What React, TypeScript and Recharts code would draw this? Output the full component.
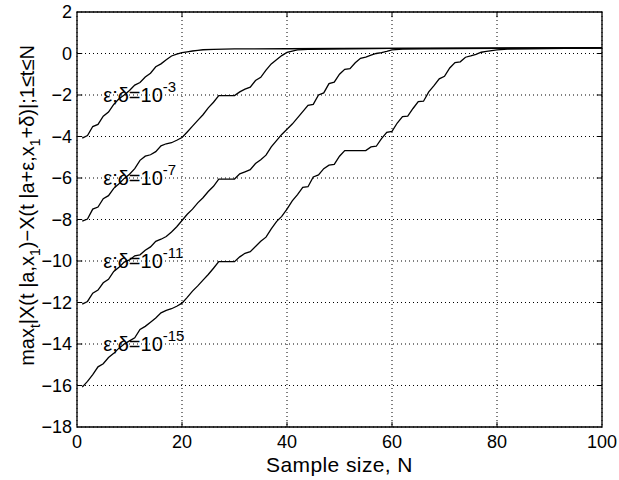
import React from "react";
import {
  LineChart,
  Line,
  XAxis,
  YAxis,
  CartesianGrid,
  ReferenceArea,
  ReferenceLine,
  ReferenceDot,
} from "recharts";

const xTicks = [0, 20, 40, 60, 80, 100];
const yTicks = [-18, -16, -14, -12, -10, -8, -6, -4, -2, 0, 2];

const curve1: [number, number][] = [
  [1, -4.08], [2, -3.95], [3, -3.52], [4, -3.42], [5, -3.02], [6, -2.82], [7, -2.45], [8, -2.18], [9, -2.0], [10, -1.78],
  [11, -1.52], [12, -1.4], [13, -1.13], [14, -0.95], [15, -0.64], [16, -0.5], [17, -0.3], [18, -0.12], [19, -0.03], [20, 0.04],
  [21, 0.08], [22, 0.12], [23, 0.15], [24, 0.18], [26, 0.2], [30, 0.22], [40, 0.23], [50, 0.24], [60, 0.25], [80, 0.26], [100, 0.27],
];

const curve2: [number, number][] = [
  [1, -8.08], [2, -7.98], [3, -7.5], [4, -7.4], [5, -7.0], [6, -6.85], [7, -6.5], [8, -6.28], [9, -6.02], [10, -5.82],
  [11, -5.55], [12, -5.15], [13, -4.95], [14, -4.88], [15, -4.73], [16, -4.45], [17, -4.35], [18, -4.3], [19, -4.18], [20, -4.05],
  [21, -3.78], [22, -3.5], [23, -3.22], [24, -2.95], [25, -2.62], [26, -2.35], [27, -2.03], [28, -2.03], [29, -2.03], [30, -2.03],
  [31, -1.85], [32, -1.72], [33, -1.62], [34, -1.3], [35, -1.15], [36, -0.8], [37, -0.5], [38, -0.3], [39, -0.1], [40, 0.05],
  [41, 0.12], [42, 0.17], [44, 0.2], [50, 0.23], [60, 0.25], [80, 0.26], [100, 0.27],
];

const curve3: [number, number][] = [
  [1, -12.08], [2, -11.95], [3, -11.55], [4, -11.4], [5, -11.05], [6, -10.88], [7, -10.5], [8, -10.3], [9, -10.05], [10, -9.95],
  [11, -9.75], [12, -9.7], [13, -9.48], [14, -9.32], [15, -9.05], [16, -8.95], [17, -8.82], [18, -8.6], [19, -8.35], [20, -8.05],
  [21, -7.75], [22, -7.5], [23, -7.2], [24, -6.95], [25, -6.65], [26, -6.4], [27, -6.05], [28, -6.05], [29, -6.05], [30, -6.05],
  [31, -5.8], [32, -5.7], [33, -5.6], [34, -5.3], [35, -5.12], [36, -4.9], [37, -4.5], [38, -4.2], [39, -3.9], [40, -3.65],
  [41, -3.4], [42, -3.1], [43, -2.8], [44, -2.5], [45, -2.45], [46, -2.0], [47, -1.9], [48, -1.45], [49, -1.38], [50, -1.0],
  [51, -0.76], [52, -0.73], [53, -0.45], [54, -0.23], [55, -0.17], [56, -0.08], [57, 0.0], [58, 0.04], [59, 0.1], [60, 0.17],
  [62, 0.21], [66, 0.23], [80, 0.25], [100, 0.27],
];

const curve4: [number, number][] = [
  [1, -16.08], [2, -15.8], [3, -15.48], [4, -15.1], [5, -14.95], [6, -14.65], [7, -14.45], [8, -14.2], [9, -14.0], [10, -13.85],
  [11, -13.7], [12, -13.3], [13, -13.15], [14, -12.95], [15, -12.75], [16, -12.5], [17, -12.38], [18, -12.3], [19, -12.18], [20, -12.03],
  [21, -11.75], [22, -11.45], [23, -11.2], [24, -10.92], [25, -10.65], [26, -10.35], [27, -10.03], [28, -10.03], [29, -10.03], [30, -10.03],
  [31, -9.8], [32, -9.63], [33, -9.55], [34, -9.3], [35, -9.05], [36, -8.85], [37, -8.45], [38, -8.1], [39, -7.85], [40, -7.5],
  [41, -7.1], [42, -6.8], [43, -6.45], [44, -6.42], [45, -5.95], [46, -5.85], [47, -5.55], [48, -5.38], [49, -5.34], [50, -4.95],
  [51, -4.68], [52, -4.68], [53, -4.68], [54, -4.68], [55, -4.68], [56, -4.5], [57, -4.47], [58, -4.1], [59, -3.8], [60, -3.75],
  [61, -3.35], [62, -3.04], [63, -3.02], [64, -2.65], [65, -2.32], [66, -2.3], [67, -1.85], [68, -1.55], [69, -1.22], [70, -1.1],
  [71, -0.7], [72, -0.44], [73, -0.4], [74, -0.18], [75, -0.12], [76, -0.04], [77, 0.06], [78, 0.1], [79, 0.14], [80, 0.17],
  [82, 0.21], [86, 0.23], [100, 0.27],
];

const curves = [curve1, curve2, curve3, curve4];

const labelN = [5, 5, 5, 5];
const labelY = [-2, -6, -10, -14];
const labelExp = ["-3", "-7", "-11", "-15"];

const FONT = "'Liberation Sans', Arial, Helvetica, sans-serif";

const fmt = (v: number) => String(v).replace("-", "\u2212");

const XTick = (props: any) => {
  const { x, y, payload } = props;
  return (
    <text x={x} y={y + 21} textAnchor="middle" fontSize={18} fontFamily={FONT} fill="#000">
      {fmt(payload.value)}
    </text>
  );
};

const YTick = (props: any) => {
  const { x, y, payload } = props;
  return (
    <text x={x - 5} y={y + 6} textAnchor="end" fontSize={18} fontFamily={FONT} fill="#000">
      {fmt(payload.value)}
    </text>
  );
};

const YLabel = (props: any) => {
  const vb = props.viewBox || { x: 0, y: 12, width: 77, height: 415 };
  const cx = vb.x + 34;
  const cy = vb.y + vb.height / 2 - 14;
  const sub = 6;
  return (
    <text
      x={cx}
      y={cy}
      transform={`rotate(-90 ${cx} ${cy})`}
      textAnchor="middle"
      fontSize={20}
      fontFamily={FONT}
      fill="#000"
    >
      <tspan>max</tspan>
      <tspan fontSize={14} dy={sub}>t</tspan>
      <tspan dy={-sub}>|X(t |a,x</tspan>
      <tspan fontSize={14} dy={sub}>1</tspan>
      <tspan dy={-sub}>){"\u2212"}X(t |a+ε,x</tspan>
      <tspan fontSize={14} dy={sub}>1</tspan>
      <tspan dy={-sub}>+δ)|;1≤t≤N</tspan>
    </text>
  );
};

const XLabel = (props: any) => {
  const vb = props.viewBox || { x: 77, y: 427, width: 525, height: 53 };
  return (
    <text
      x={vb.x + vb.width / 2}
      y={vb.y + 45}
      textAnchor="middle"
      fontSize={21}
      letterSpacing={0.4}
      fontFamily={FONT}
      fill="#000"
    >
      Sample size, N
    </text>
  );
};

const makeLabelShape = (exp: string) => (props: any) => {
  const { cx, cy } = props;
  return (
    <text x={cx} y={cy + 7} fontSize={20} fontFamily={FONT} fill="#000">
      <tspan>ε;δ=10</tspan>
      <tspan fontSize={15} dy={-10}>{exp}</tspan>
    </text>
  );
};

export default function App() {
  const innerX = xTicks.slice(1, -1);
  const innerY = yTicks.slice(1, -1);
  const yMin = yTicks[0];
  const yMax = yTicks[yTicks.length - 1];
  const xMin = xTicks[0];
  const xMax = xTicks[xTicks.length - 1];
  return (
    <div style={{ position: "absolute", left: 0, top: 0, background: "#fff" }}>
      <LineChart width={619} height={480} margin={{ top: 12, right: 17, left: 0, bottom: 0 }}>
        <CartesianGrid stroke="#000" strokeDasharray="1 3" strokeWidth={1} />
        <XAxis
          type="number"
          dataKey="n"
          domain={[xMin, xMax]}
          ticks={xTicks}
          interval={0}
          height={53}
          tickLine={false}
          tickSize={0}
          tickMargin={0}
          axisLine={false}
          tick={<XTick />}
          label={{ content: <XLabel /> }}
          allowDataOverflow
        />
        <YAxis
          type="number"
          domain={[yMin, yMax]}
          ticks={yTicks}
          interval={0}
          width={77}
          tickLine={false}
          tickSize={0}
          tickMargin={0}
          axisLine={false}
          tick={<YTick />}
          label={{ content: <YLabel /> }}
          allowDataOverflow
        />
        {innerX.map((v) => (
          <ReferenceLine
            key={`xb${v}`}
            segment={[{ x: v, y: yMin }, { x: v, y: yMin + 0.25 }]}
            stroke="#000"
            strokeWidth={1}
          />
        ))}
        {innerX.map((v) => (
          <ReferenceLine
            key={`xt${v}`}
            segment={[{ x: v, y: yMax }, { x: v, y: yMax - 0.25 }]}
            stroke="#000"
            strokeWidth={1}
          />
        ))}
        {innerY.map((v) => (
          <ReferenceLine
            key={`yl${v}`}
            segment={[{ x: xMin, y: v }, { x: xMin + 1, y: v }]}
            stroke="#000"
            strokeWidth={1}
          />
        ))}
        {innerY.map((v) => (
          <ReferenceLine
            key={`yr${v}`}
            segment={[{ x: xMax, y: v }, { x: xMax - 1, y: v }]}
            stroke="#000"
            strokeWidth={1}
          />
        ))}
        {curves.map((c, i) => (
          <Line
            key={`c${i}`}
            data={c.map(([n, v]) => ({ n, v }))}
            dataKey="v"
            type="linear"
            stroke="#000"
            strokeWidth={1.3}
            dot={false}
            activeDot={false}
            isAnimationActive={false}
          />
        ))}
        {labelN.map((n, i) => (
          <ReferenceDot
            key={`l${i}`}
            x={n}
            y={labelY[i]}
            r={0}
            shape={makeLabelShape(labelExp[i])}
          />
        ))}
        <ReferenceArea
          x1={xMin}
          x2={xMax}
          y1={yMin}
          y2={yMax}
          fill="none"
          fillOpacity={0}
          stroke="#000"
          strokeWidth={1.3}
        />
      </LineChart>
    </div>
  );
}
